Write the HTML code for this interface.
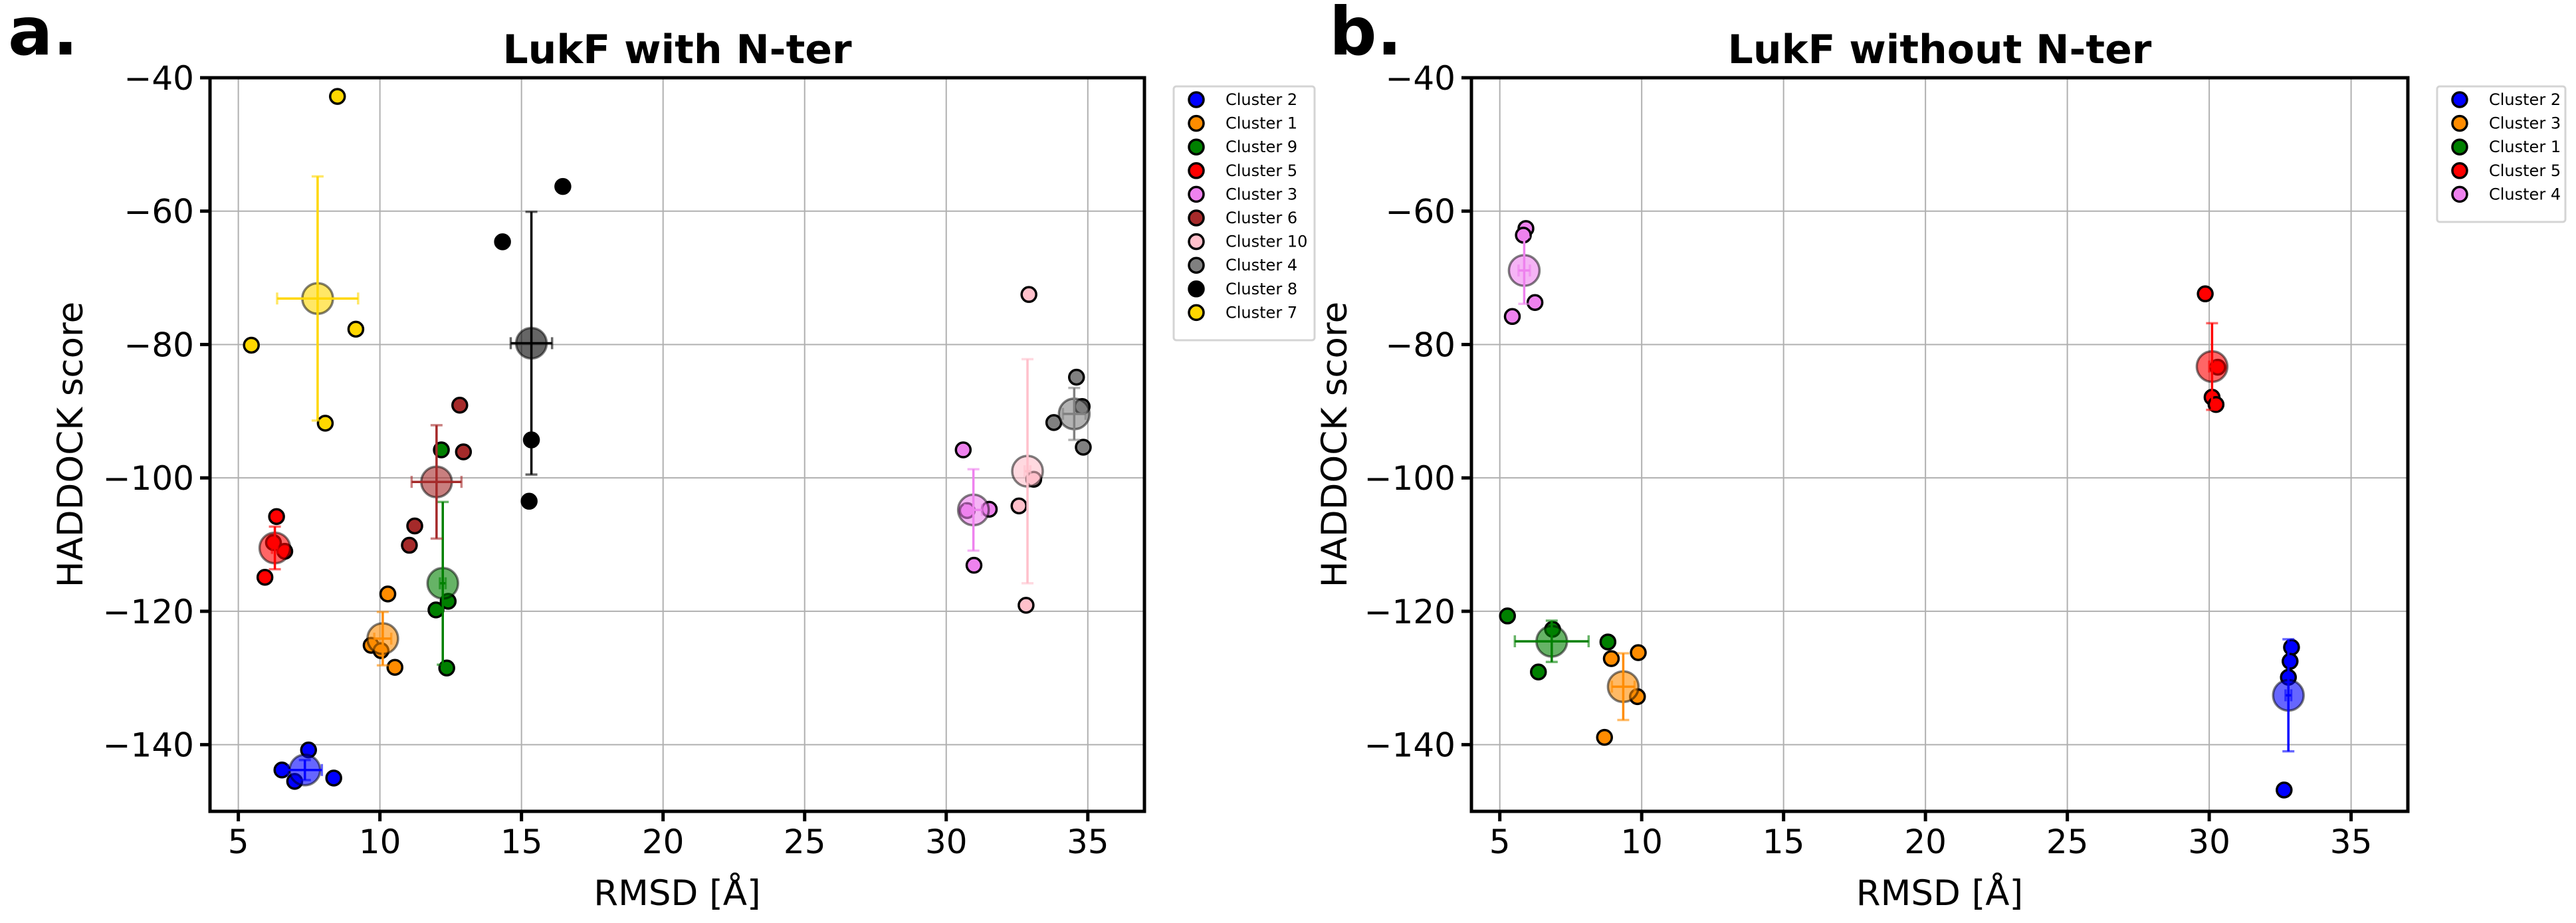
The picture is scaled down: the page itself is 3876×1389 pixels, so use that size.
<!DOCTYPE html>
<html><head><meta charset="utf-8"><style>
html,body{margin:0;padding:0;background:#fff;}
svg{display:block;font-family:"DejaVu Sans","Liberation Sans",sans-serif;}
</style></head><body>
<svg id="fig" width="3876" height="1389" viewBox="0 0 3876 1389" xmlns="http://www.w3.org/2000/svg">
<rect width="3876" height="1389" fill="#fff"/>
</svg>
<script>
// ---- Panel a data ----
const aNames = ["Cluster 2","Cluster 1","Cluster 9","Cluster 5","Cluster 3","Cluster 6","Cluster 10","Cluster 4","Cluster 8","Cluster 7"];
const aColors = ["#0000ff","#ff8c00","#008000","#ff0000","#ee82ee","#a52a2a","#ffc0cb","#808080","#000000","#ffd700"];
const aPtsX = [[7.48,6.54,6.99,8.37],[10.28,9.69,10.04,10.53],[12.17,11.98,12.41,12.36],[6.35,6.24,6.64,5.94],[30.6,30.74,31.52,30.98],[12.82,12.95,11.23,11.04],[32.92,33.09,32.57,32.82],[34.6,34.8,33.8,34.84],[16.46,14.33,15.35,15.27],[8.5,9.15,5.46,8.07]];
const aPtsY = [[-140.8,-143.8,-145.5,-145.0],[-117.4,-125.1,-125.9,-128.4],[-95.8,-119.8,-118.5,-128.5],[-105.8,-109.7,-111.0,-114.9],[-95.8,-104.9,-104.7,-113.1],[-89.1,-96.1,-107.2,-110.1],[-72.5,-100.2,-104.2,-119.1],[-84.9,-89.3,-91.7,-95.4],[-56.3,-64.6,-94.3,-103.5],[-42.8,-77.7,-80.1,-91.8]];
const aMeanX = [7.35,10.1,12.22,6.29,30.96,12.0,32.87,34.52,15.35,7.8];
const aMeanY = [-143.8,-124.1,-115.8,-110.5,-104.8,-100.6,-99.0,-90.4,-79.8,-73.1];
const aErrX = [0.6,0.3,0.1,0.1,0.3,0.88,0.1,0.4,0.73,1.43];
const aErrY = [1.5,4.0,12.2,3.2,6.1,8.5,16.8,3.9,19.7,18.3];
// ---- Panel b data ----
const bNames = ["Cluster 2","Cluster 3","Cluster 1","Cluster 5","Cluster 4"];
const bColors = ["#0000ff","#ff8c00","#008000","#ff0000","#ee82ee"];
const bPtsX = [[32.9,32.85,32.79,32.64],[9.88,8.93,9.85,8.69],[5.27,6.86,8.81,6.36],[29.86,30.3,30.1,30.24],[5.92,5.83,6.24,5.44]];
const bPtsY = [[-125.4,-127.5,-129.9,-146.8],[-126.2,-127.1,-132.8,-138.9],[-120.7,-122.7,-124.6,-129.1],[-72.4,-83.4,-87.9,-89.0],[-62.6,-63.6,-73.7,-75.8]];
const bMeanX = [32.79,9.35,6.83,30.1,5.86];
const bMeanY = [-132.6,-131.3,-124.5,-83.3,-68.9];
const bErrX = [0.1,0.4,1.3,0.1,0.2];
const bErrY = [8.4,5.0,3.1,6.5,5.0];
// ---- Axis ticks ----
const xTicks = [5,10,15,20,25,30,35];
const yTicks = [-40,-60,-80,-100,-120,-140];
const yTickLabels = ["\u221240","\u221260","\u221280","\u2212100","\u2212120","\u2212140"];
const xDomain = [4,37];
const yDomain = [-150,-40];

const NS = "http://www.w3.org/2000/svg";
const svg = document.getElementById("fig");
function mk(tag, attrs, parent){
  const e = document.createElementNS(NS, tag);
  for (const k in attrs) e.setAttribute(k, attrs[k]);
  (parent||svg).appendChild(e);
  return e;
}

function panel(cfg){
  const L=cfg.left, R=cfg.right, T=117, B=1221;
  const sx = v => L + (v - xDomain[0])/(xDomain[1]-xDomain[0])*(R-L);
  const sy = v => B - (v - yDomain[0])/(yDomain[1]-yDomain[0])*(B-T);
  const g = mk("g", {});
  
  
  // grid
  xTicks.forEach(t=>{
    const l = mk("line",{x1:sx(t),x2:sx(t),y1:T,y2:B,stroke:"#b0b0b0","stroke-width":2},g);
    
    
  });
  yTicks.forEach(t=>{
    const l = mk("line",{x1:L,x2:R,y1:sy(t),y2:sy(t),stroke:"#b0b0b0","stroke-width":2},g);
    
    
  });
  // scatter points
  for (let i=0;i<cfg.names.length;i++){
    for (let j=0;j<cfg.px[i].length;j++){
      const c = mk("circle",{cx:sx(cfg.px[i][j]),cy:sy(cfg.py[i][j]),r:11,fill:cfg.colors[i],stroke:"#000","stroke-width":3.5},g);
      
      
    }
  }
  // means + error bars
  for (let i=0;i<cfg.names.length;i++){
    const cx=sx(cfg.mx[i]), cy=sy(cfg.my[i]);
    const m = mk("circle",{cx:cx,cy:cy,r:23,fill:cfg.colors[i],"fill-opacity":0.6,stroke:"#000","stroke-opacity":0.5,"stroke-width":3.5},g);
    
    
    const eg = mk("g",{stroke:cfg.colors[i],"stroke-width":3.5},g);
    
    
    const x1=sx(cfg.mx[i]-cfg.ex[i]), x2=sx(cfg.mx[i]+cfg.ex[i]);
    const y1=sy(cfg.my[i]+cfg.ey[i]), y2=sy(cfg.my[i]-cfg.ey[i]);
    mk("line",{x1:x1,x2:x2,y1:cy,y2:cy},eg);
    mk("line",{x1:cx,x2:cx,y1:y1,y2:y2},eg);
    mk("line",{x1:cx-9,x2:cx+9,y1:y1,y2:y1,"stroke-opacity":0.6},eg);
    mk("line",{x1:cx-9,x2:cx+9,y1:y2,y2:y2,"stroke-opacity":0.6},eg);
    mk("line",{x1:x1,x2:x1,y1:cy-9,y2:cy+9,"stroke-opacity":0.6},eg);
    mk("line",{x1:x2,x2:x2,y1:cy-9,y2:cy+9,"stroke-opacity":0.6},eg);
  }
  // spines
  const sp = mk("rect",{x:L,y:T,width:R-L,height:B-T,fill:"none",stroke:"#000","stroke-width":5},g);
  
  
  // ticks
  xTicks.forEach(t=>{
    mk("line",{x1:sx(t),x2:sx(t),y1:B,y2:B+15,stroke:"#000","stroke-width":5},g);
    const tx = mk("text",{x:sx(t),y:1284,"font-size":50,"text-anchor":"middle",fill:"#000"},g);
    tx.textContent = t;
    
    
  });
  yTicks.forEach((t,k)=>{
    mk("line",{x1:L-15,x2:L,y1:sy(t),y2:sy(t),stroke:"#000","stroke-width":5},g);
    const tx = mk("text",{x:L-24,y:sy(t)+18,"font-size":50,"text-anchor":"end",fill:"#000"},g);
    tx.textContent = yTickLabels[k];
    
    
  });
  // labels
  const xl = mk("text",{x:(L+R)/2,y:1362,"font-size":53,"text-anchor":"middle"},g);
  xl.textContent = "RMSD [\u00c5]";
  
  
  const ylx = cfg.ylx;
  const yl = mk("text",{x:ylx,y:669,"font-size":53,"text-anchor":"middle",transform:"rotate(-90 "+ylx+" 669)"},g);
  yl.textContent = "HADDOCK score";
  
  
  const ti = mk("text",{x:(L+R)/2,y:95,"font-size":60,"font-weight":"bold","text-anchor":"middle"},g);
  ti.textContent = cfg.title;
  
  
  const pl = mk("text",{x:cfg.letterX,y:82,"font-size":100,"font-weight":"bold"},g);
  pl.textContent = cfg.letter;
  
  
  // legend
  const lg = mk("g",{},g);
  
  
  const n = cfg.names.length;
  mk("rect",{x:cfg.legX,y:130,width:cfg.legW,height:26+n*35.6,rx:4,fill:"#fff",stroke:"#d4d4d4","stroke-width":3},lg);
  for (let i=0;i<n;i++){
    const yy = 150 + i*35.6;
    const e = mk("g",{},lg);
    
    
    mk("circle",{cx:cfg.legX+34,cy:yy,r:11,fill:cfg.colors[i],stroke:"#000","stroke-width":3.5},e);
    const t = mk("text",{x:cfg.legX+78,y:yy+8,"font-size":24},e);
    t.textContent = cfg.names[i];
  }
}

panel({id:"panel-a",left:316,right:1722,names:aNames,colors:aColors,px:aPtsX,py:aPtsY,mx:aMeanX,my:aMeanY,ex:aErrX,ey:aErrY,
  title:"LukF with N-ter",letter:"a.",letterX:12,ylx:124,legX:1766,legW:212});
panel({id:"panel-b",left:2214,right:3623,names:bNames,colors:bColors,px:bPtsX,py:bPtsY,mx:bMeanX,my:bMeanY,ex:bErrX,ey:bErrY,
  title:"LukF without N-ter",letter:"b.",letterX:2000,ylx:2026,legX:3667,legW:193});
</script>
</body></html>
